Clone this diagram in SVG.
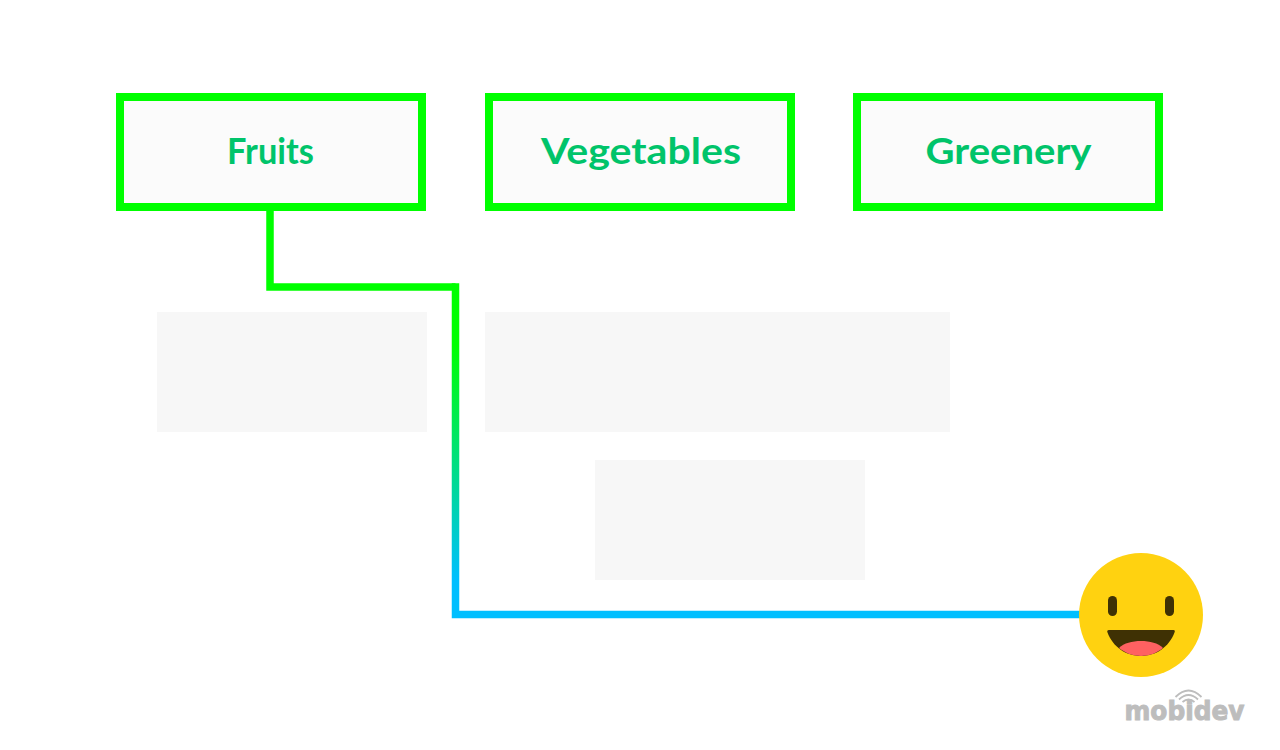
<svg xmlns="http://www.w3.org/2000/svg" width="1280" height="750" viewBox="0 0 1280 750">
<style>
.box{fill:#fbfbfb;stroke:#00ff00;stroke-width:8}
.lbl{font-family:"Lato","Liberation Sans",sans-serif;font-weight:700;font-size:36.500px;fill:#00c46a;text-anchor:middle}
.ph{fill:#f7f7f7}
.arc{fill:none;stroke:#bdbdbd;stroke-width:1.800}
</style>
<defs>
<linearGradient id="wire" gradientUnits="userSpaceOnUse" x1="0" y1="345" x2="0" y2="580">
<stop offset="0" stop-color="#00ff00"/><stop offset="1" stop-color="#00bfff"/>
</linearGradient>
</defs>
<rect width="1280" height="750" fill="#fff"/>
<g id="placeholders">
<rect class="ph" x="157" y="312" width="270" height="120"/>
<rect class="ph" x="485" y="312" width="465" height="120"/>
<rect class="ph" x="595" y="460" width="270" height="120"/>
</g>
<g id="connectors">
<path d="M270 207V287H455.500" fill="none" stroke="#00ff00" stroke-width="7.500"/>
<path d="M455.500 283.300V614.500H1082" fill="none" stroke="url(#wire)" stroke-width="7.500"/>
</g>
<g id="node-fruits"><rect class="box" x="120" y="97" width="302" height="110"/><text class="lbl" x="270.500" y="164" textLength="87" lengthAdjust="spacingAndGlyphs">Fruits</text></g>
<g id="node-vegetables"><rect class="box" x="489" y="97" width="302" height="110"/><text class="lbl" x="641" y="164" textLength="200" lengthAdjust="spacingAndGlyphs">Vegetables</text></g>
<g id="node-greenery"><rect class="box" x="857" y="97" width="302" height="110"/><text class="lbl" x="1008.500" y="164" textLength="166" lengthAdjust="spacingAndGlyphs">Greenery</text></g>
<g id="smiley">
<circle cx="1141" cy="615" r="62" fill="#ffd210"/>
<rect x="1108" y="596" width="9" height="20" rx="4.500" fill="#3f3104"/>
<rect x="1165" y="596" width="9" height="20" rx="4.500" fill="#3f3104"/>
<path d="M1109 630H1173.500Q1175.500 630 1174.500 632.500C1169 647 1156 656 1141 656C1126 656 1113 647 1107.500 632.500Q1106.500 630 1109 630Z" fill="#3f3104"/>
<path d="M1119 648C1124 643 1132 641 1141 641C1150 641 1158 643 1163 648C1157 653 1149 656 1141 656C1133 656 1125 653 1119 648Z" fill="#ff6161"/>
</g>
<g id="logo">
<path class="arc" d="M1175.500 697Q1188.500 684 1201.500 697"/>
<path class="arc" d="M1179 699.500Q1188.500 690.500 1198 699.500"/>
<path class="arc" d="M1182.500 702Q1188.500 697 1194.500 702"/>
<text x="1184.500" y="719.500" text-anchor="middle" font-family="'DejaVu Sans','Liberation Sans',sans-serif" font-weight="700" font-size="27" fill="#bdbdbd" stroke="#bdbdbd" stroke-width="1" textLength="120" lengthAdjust="spacingAndGlyphs">mobidev</text>
</g>
</svg>
